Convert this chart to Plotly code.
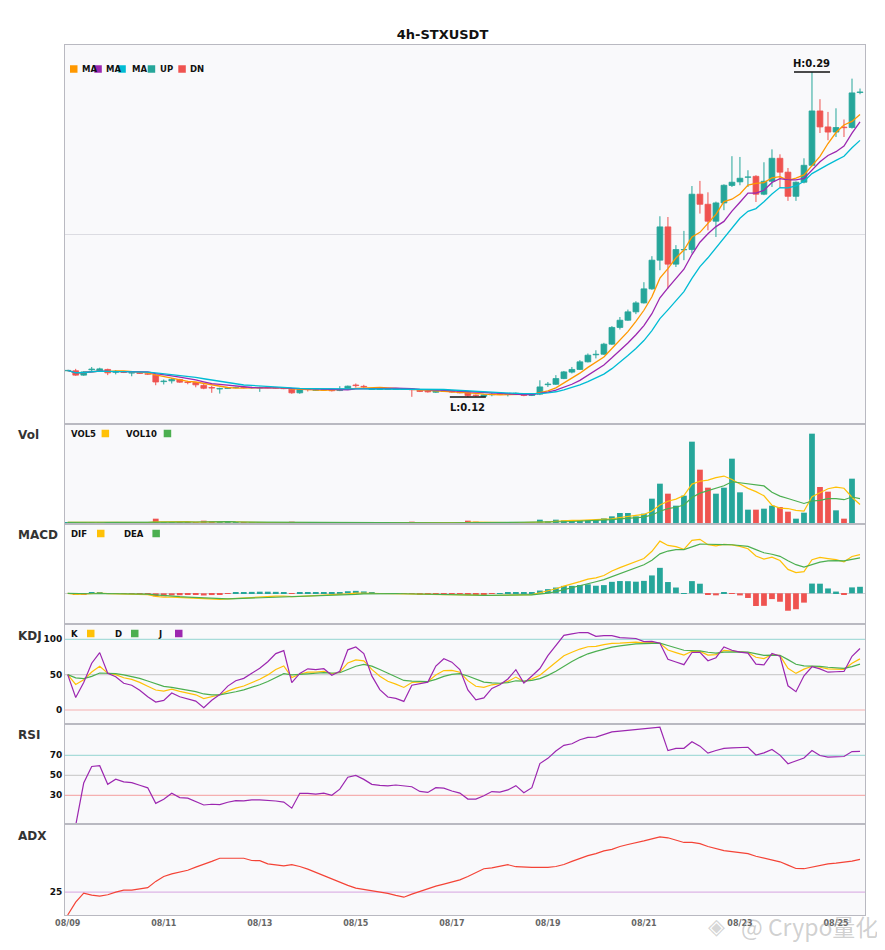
import pandas as pd
import numpy as np
import plotly.graph_objects as go
from plotly.subplots import make_subplots

# ---------------- data ----------------
start_time = "2023-08-09 00:00"
n_bars = 100
opens = [0.1334,0.1334,0.1311,0.1339,0.1334,0.1341,0.1326,0.1326,0.1322,0.1322,
         0.1318,0.1311,0.1277,0.1281,0.1288,0.1275,0.1272,0.1257,0.1246,0.1238,
         0.1241,0.1245,0.1246,0.1245,0.1244,0.1246,0.1245,0.1243,0.1237,0.1218,
         0.1238,0.1231,0.1233,0.1237,0.1230,0.1242,0.1259,0.1252,0.1236,0.1236,
         0.1237,0.1236,0.1237,0.1238,0.1231,0.1227,0.1221,0.1225,0.1227,0.1223,
         0.1218,0.1206,0.1200,0.1208,0.1211,0.1209,0.1212,0.1211,0.1204,0.1211,
         0.1261,0.1263,0.1293,0.1327,0.1341,0.1381,0.1418,0.1421,0.1474,0.1562,
         0.1600,0.1644,0.1691,0.1765,0.1916,0.2091,0.1895,0.1970,0.1972,0.2263,
         0.2210,0.2121,0.2217,0.2309,0.2328,0.2352,0.2357,0.2263,0.2331,0.2452,
         0.2379,0.2252,0.2326,0.2415,0.2701,0.2617,0.2590,0.2616,0.2614,0.2798]
highs = [0.1338,0.1344,0.1332,0.1354,0.1350,0.1345,0.1337,0.1330,0.1327,0.1325,
         0.1321,0.1314,0.1288,0.1295,0.1292,0.1281,0.1274,0.1264,0.1254,0.1245,
         0.1248,0.1250,0.1249,0.1250,0.1250,0.1249,0.1248,0.1246,0.1240,0.1238,
         0.1241,0.1236,0.1237,0.1239,0.1253,0.1256,0.1267,0.1260,0.1242,0.1240,
         0.1240,0.1240,0.1240,0.1241,0.1234,0.1230,0.1231,0.1230,0.1230,0.1226,
         0.1221,0.1209,0.1210,0.1218,0.1214,0.1218,0.1220,0.1214,0.1213,0.1284,
         0.1275,0.1311,0.1333,0.1354,0.1390,0.1425,0.1442,0.1481,0.1569,0.1617,
         0.1656,0.1700,0.1800,0.1937,0.2147,0.2143,0.1995,0.2070,0.2306,0.2333,
         0.2273,0.2224,0.2315,0.2463,0.2459,0.2389,0.2363,0.2431,0.2499,0.2473,
         0.2401,0.2330,0.2452,0.2906,0.2763,0.2696,0.2715,0.2656,0.2871,0.2819]
lows = [0.1331,0.1308,0.1308,0.1328,0.1330,0.1311,0.1315,0.1322,0.1305,0.1317,
        0.1313,0.1258,0.1262,0.1267,0.1271,0.1263,0.1247,0.1237,0.1218,0.1214,
        0.1238,0.1242,0.1241,0.1241,0.1223,0.1242,0.1240,0.1237,0.1213,0.1213,
        0.1225,0.1228,0.1230,0.1225,0.1227,0.1240,0.1246,0.1239,0.1234,0.1233,
        0.1233,0.1233,0.1233,0.1197,0.1222,0.1219,0.1218,0.1222,0.1219,0.1215,
        0.1196,0.1198,0.1199,0.1200,0.1207,0.1199,0.1209,0.1200,0.1201,0.1206,
        0.1249,0.1260,0.1290,0.1320,0.1338,0.1378,0.1399,0.1418,0.1470,0.1551,
        0.1597,0.1632,0.1688,0.1760,0.1863,0.1767,0.1880,0.1916,0.1951,0.2161,
        0.2073,0.2038,0.2179,0.2301,0.2310,0.2301,0.2222,0.2258,0.2301,0.2298,
        0.2228,0.2228,0.2320,0.2410,0.2585,0.2547,0.2564,0.2564,0.2608,0.2789]
closes = [0.1336,0.1311,0.1328,0.1343,0.1344,0.1323,0.1329,0.1325,0.1324,0.1320,
          0.1316,0.1275,0.1280,0.1288,0.1274,0.1272,0.1260,0.1242,0.1243,0.1241,
          0.1244,0.1246,0.1245,0.1246,0.1246,0.1245,0.1243,0.1240,0.1218,0.1235,
          0.1235,0.1233,0.1234,0.1229,0.1236,0.1253,0.1256,0.1249,0.1239,0.1237,
          0.1236,0.1237,0.1236,0.1234,0.1225,0.1223,0.1228,0.1227,0.1222,0.1218,
          0.1204,0.1204,0.1207,0.1211,0.1210,0.1212,0.1216,0.1204,0.1209,0.1249,
          0.1264,0.1293,0.1328,0.1341,0.1381,0.1416,0.1421,0.1474,0.1562,0.1600,
          0.1644,0.1691,0.1765,0.1916,0.2091,0.1895,0.1972,0.1972,0.2263,0.2210,
          0.2121,0.2217,0.2310,0.2326,0.2347,0.2354,0.2263,0.2331,0.2452,0.2379,
          0.2252,0.2326,0.2415,0.2701,0.2617,0.2590,0.2614,0.2613,0.2796,0.2801]
volumes = [5,6,5,5,5,5,4,4,4,4,
           5,16,6,5,5,5,6,10,8,6,
           6,4,4,4,5,4,4,4,7,5,
           4,3,3,4,4,4,3,3,3,3,
           3,3,3,7,3,3,3,3,3,4,
           10,7,4,4,3,4,4,4,4,13,
           8,13,11,11,12,12,12,17,23,33,
           33,23,31,76,121,91,55,85,247,163,
           109,91,109,196,95,43,43,46,55,51,
           37,16,34,271,111,97,41,16,136,2]
adx_values = [14.7,20.5,24.5,23.6,23.2,23.8,25.0,25.9,25.9,26.4,
              27.0,29.8,32.0,33.2,34.1,34.8,36.2,37.4,38.8,40.2,
              40.2,40.2,40.2,39.2,39.1,37.7,37.3,36.8,37.3,36.5,
              35.3,33.8,32.3,30.8,29.2,28.0,26.8,26.2,25.6,25.3,
              24.4,23.5,22.7,24.1,25.3,26.8,27.7,28.6,29.5,30.5,
              32.0,33.6,35.5,35.9,36.5,37.3,36.4,36.1,36.1,36.1,
              36.1,36.5,37.4,38.8,40.2,41.4,42.3,43.5,44.2,45.5,
              46.4,47.1,48.0,48.9,49.8,49.4,48.3,47.3,47.3,46.8,
              45.5,44.4,43.6,43.2,42.9,42.3,41.1,40.2,39.4,38.6,
              37.1,35.6,35.5,36.2,37.1,37.7,38.0,38.3,38.9,39.7]
ma_periods = [5, 8, 12]
ma_colors = ["#ff9800", "#9c27b0", "#00bcd4"]
macd_fast, macd_slow, macd_signal = 6, 13, 5
rsi_period = 14
UP, DN = "#26a69a", "#ef5350"

# ---------------- indicators ----------------
t = pd.date_range(start_time, periods=n_bars, freq="4h")
o, h, l, c = (pd.Series(v) for v in (opens, highs, lows, closes))
v = pd.Series(volumes, dtype=float)
mas = [c.rolling(p, min_periods=1).mean() for p in ma_periods]
vol5 = v.rolling(5, min_periods=1).mean()
vol10 = v.rolling(10, min_periods=1).mean()
dif = c.ewm(span=macd_fast, adjust=False).mean() - c.ewm(span=macd_slow, adjust=False).mean()
dea = dif.ewm(span=macd_signal, adjust=False).mean()
hist = 2 * (dif - dea)
low9 = l.rolling(9, min_periods=1).min()
high9 = h.rolling(9, min_periods=1).max()
rsv = ((c - low9) / (high9 - low9) * 100).fillna(50)
K, D = [50.0], [50.0]
for i in range(1, n_bars):
    K.append(2 / 3 * K[-1] + rsv[i] / 3)
    D.append(2 / 3 * D[-1] + K[-1] / 3)
K, D = pd.Series(K), pd.Series(D)
J = 3 * K - 2 * D
diff = c.diff()
au = diff.clip(lower=0).ewm(alpha=1 / rsi_period, adjust=True).mean()
ad = (-diff).clip(lower=0).ewm(alpha=1 / rsi_period, adjust=True).mean()
rsi = 100 * au / (au + ad)

up_mask = (c >= o).tolist()
bar_cols = [UP if u else DN for u in up_mask]
hist_cols = [UP if x >= 0 else DN for x in hist]

# ---------------- figure geometry ----------------
# the page has an 8px body margin, so the figure is offset by 8px
OFF = 8
W, H = 869, 934
L_M, R_M, T_M, B_M = 57, 12, 37, 27
PL, PT = OFF + L_M, OFF + T_M          # plot area top-left on the page
PW, PH = W - L_M - R_M, H - T_M - B_M  # 800 x 870

def px(xp):
    return (xp - PL) / PW

def py(yp):
    return 1 - (yp - PT) / PH

fig = make_subplots(rows=6, cols=1, shared_xaxes=True, vertical_spacing=0,
                    row_heights=[379, 100, 100, 100, 100, 91])

# candles: wick lines + body bars
bar_w = 4 * 3600 * 1000 * 0.72
for is_up, col in ((True, UP), (False, DN)):
    wx, wy = [], []
    for i in range(n_bars):
        if up_mask[i] == is_up:
            wx += [t[i], t[i], None]
            wy += [lows[i], highs[i], None]
    fig.add_trace(go.Scatter(x=wx, y=wy, mode="lines", line=dict(color=col, width=1),
                             showlegend=False, hoverinfo="skip"), row=1, col=1)
body_base = np.minimum(o, c)
body_h = (c - o).abs()
fig.add_trace(go.Bar(x=t, y=body_h, base=body_base, width=bar_w,
                     marker=dict(color=bar_cols, line=dict(color=bar_cols, width=0.8)),
                     showlegend=False), row=1, col=1)
for m, col in zip(mas, ma_colors):
    fig.add_trace(go.Scatter(x=t, y=m, mode="lines", line=dict(color=col, width=1.3),
                             showlegend=False), row=1, col=1)

fig.add_trace(go.Bar(x=t, y=v, marker=dict(color=bar_cols, line_width=0), width=bar_w,
                     showlegend=False), row=2, col=1)
fig.add_trace(go.Scatter(x=t, y=vol5, mode="lines", line=dict(color="#ffc107", width=1.2),
                         showlegend=False), row=2, col=1)
fig.add_trace(go.Scatter(x=t, y=vol10, mode="lines", line=dict(color="#4caf50", width=1.2),
                         showlegend=False), row=2, col=1)

fig.add_trace(go.Bar(x=t, y=hist, marker=dict(color=hist_cols, line_width=0), width=bar_w,
                     showlegend=False), row=3, col=1)
fig.add_trace(go.Scatter(x=t, y=dif, mode="lines", line=dict(color="#ffc107", width=1.2),
                         showlegend=False), row=3, col=1)
fig.add_trace(go.Scatter(x=t, y=dea, mode="lines", line=dict(color="#4caf50", width=1.2),
                         showlegend=False), row=3, col=1)

for series, col in ((K, "#ffc107"), (D, "#4caf50"), (J, "#9c27b0")):
    fig.add_trace(go.Scatter(x=t, y=series, mode="lines", line=dict(color=col, width=1.2),
                             showlegend=False), row=4, col=1)

fig.add_trace(go.Scatter(x=t, y=rsi, mode="lines", line=dict(color="#9c27b0", width=1.2),
                         showlegend=False), row=5, col=1)
fig.add_trace(go.Scatter(x=t, y=adx_values, mode="lines", line=dict(color="#f44336", width=1.2),
                         showlegend=False), row=6, col=1)

# reference lines
for row, val, col in ((4, 100, "#a8dcd9"), (4, 50, "#cfcfcf"), (4, 0, "#f5b0b0"),
                      (5, 70, "#a8dcd9"), (5, 50, "#cfcfcf"), (5, 30, "#f5b0b0"),
                      (6, 25, "#dcb4e6")):
    fig.add_hline(y=val, line=dict(color=col, width=1.2), layer="below", row=row, col=1)

# axes
x0 = t[0] - pd.Timedelta(hours=1.35)
x1 = t[-1] + pd.Timedelta(hours=2.5)
BORDER = "#b9b9c1"
fig.update_xaxes(range=[x0, x1], showgrid=False, showline=True, mirror=True,
                 linecolor=BORDER, linewidth=1, rangeslider_visible=False,
                 ticks="", showticklabels=False, zeroline=False)
fig.update_xaxes(showticklabels=True, tickformat="%m/%d", dtick=2 * 86400000,
                 tick0=t[0], tickfont=dict(family="DejaVu Sans", size=8, color="#666",
                                           weight="bold"), row=6, col=1)
fig.update_yaxes(showline=True, mirror=True, linecolor=BORDER, linewidth=1,
                 showgrid=False, zeroline=False, ticks="", fixedrange=True,
                 tickfont=dict(family="DejaVu Sans", size=9, color="#111", weight="bold"))

p_lo, p_hi = min(lows), max(highs)
pad = (p_hi - p_lo) * 27 / 325
mid = (p_lo - pad + p_hi + pad) / 2
fig.update_yaxes(range=[p_lo - pad, p_hi + pad], tickvals=[mid], showticklabels=False,
                 showgrid=True, gridcolor="#dcdce2", row=1, col=1)
fig.update_yaxes(range=[0, max(volumes) * 300 / 271], showticklabels=False, row=2, col=1)
mtop = dif.max() * 69.3 / 54
fig.update_yaxes(range=[-mtop * 30.7 / 69.3, mtop], showticklabels=False,
                 zeroline=True, zerolinecolor="#d0d0d6", zerolinewidth=1, row=3, col=1)
fig.update_yaxes(range=[-19.8, 121.6], tickvals=[0, 50, 100], row=4, col=1)
fig.update_yaxes(range=[1.3, 101.3], tickvals=[30, 50, 70], row=5, col=1)
fig.update_yaxes(range=[14.7, 55.6], tickvals=[25], row=6, col=1)

# high / low markers
ih, il = int(np.argmax(highs)), int(np.argmin(lows))
half = pd.Timedelta(hours=9)
for idx, val, txt, ys in ((ih, highs[ih], f"H:{highs[ih]:.2f}", 9),
                          (il, lows[il], f"L:{lows[il]:.2f}", -10)):
    fig.add_shape(type="line", x0=t[idx] - half, x1=t[idx] + half, y0=val, y1=val,
                  line=dict(color="#111", width=1.5), row=1, col=1)
    fig.add_annotation(x=t[idx], y=val, text=f"<b>{txt}</b>", showarrow=False,
                       yshift=ys, font=dict(family="DejaVu Sans", size=10, color="#111"),
                       row=1, col=1)

# panel titles
for txt, yp in (("Vol", 435), ("MACD", 535), ("KDJ", 636), ("RSI", 735), ("ADX", 836)):
    fig.add_annotation(xref="paper", yref="paper", x=px(16), y=py(yp), xanchor="left",
                       yanchor="middle", text=f"<b>{txt}</b>", showarrow=False,
                       font=dict(family="DejaVu Sans", size=12, color="#333"))

# custom legends
def legend_square(xl, yc, color, w=7.5):
    fig.add_shape(type="rect", xref="paper", yref="paper", x0=px(xl), x1=px(xl + w),
                  y0=py(yc + w / 2), y1=py(yc - w / 2), fillcolor=color, line_width=0,
                  layer="above")

def legend_text(xl, yc, txt):
    fig.add_annotation(xref="paper", yref="paper", x=px(xl), y=py(yc), xanchor="left",
                       yanchor="middle", text=f"<b>{txt}</b>", showarrow=False,
                       font=dict(family="DejaVu Sans", size=8.5, color="#111"))

for (sq, tx, txt, col) in ((70, 81, "MA", ma_colors[0]), (94.3, 105, "MA", ma_colors[1]),
                           (118.3, 131, "MA", ma_colors[2]), (147.7, 159, "UP", UP),
                           (178.3, 189, "DN", DN)):
    legend_text(tx - 1, 69, txt)
    legend_square(sq, 69, col)

for (tx, txt, sq, col, yc) in ((70, "VOL5", 101.6, "#ffc107", 433.5),
                               (125, "VOL10", 163.7, "#4caf50", 433.5),
                               (70, "DIF", 97, "#ffc107", 533.5),
                               (123, "DEA", 152.4, "#4caf50", 533.5),
                               (70, "K", 87, "#ffc107", 633.5),
                               (114, "D", 131, "#4caf50", 633.5),
                               (157, "J", 175, "#9c27b0", 633.5)):
    legend_text(tx - 1, yc, txt)
    legend_square(sq, yc, col)

# watermark
fig.add_annotation(xref="paper", yref="paper", x=px(716), y=py(926), xanchor="center",
                   yanchor="middle", text="◈", showarrow=False,
                   font=dict(family="DejaVu Sans", size=22, color="rgba(150,150,150,0.4)"))
fig.add_annotation(xref="paper", yref="paper", x=px(880), y=py(926), xanchor="right",
                   yanchor="middle", text="@ Crypo量化", showarrow=False,
                   font=dict(family="Noto Sans CJK SC", size=23, color="rgba(150,150,150,0.45)"))

fig.update_layout(
    width=W, height=H, margin=dict(l=L_M, r=R_M, t=T_M, b=B_M),
    paper_bgcolor="white", plot_bgcolor="#f9f9fb", barmode="overlay",
    title=dict(text="<b>4h-STXUSDT</b>", x=0.5, xanchor="center", y=1 - (34 - OFF) / H,
               yanchor="middle", font=dict(family="DejaVu Sans", size=13, color="#111")),
    showlegend=False,
)

fig.write_html("out.html")
